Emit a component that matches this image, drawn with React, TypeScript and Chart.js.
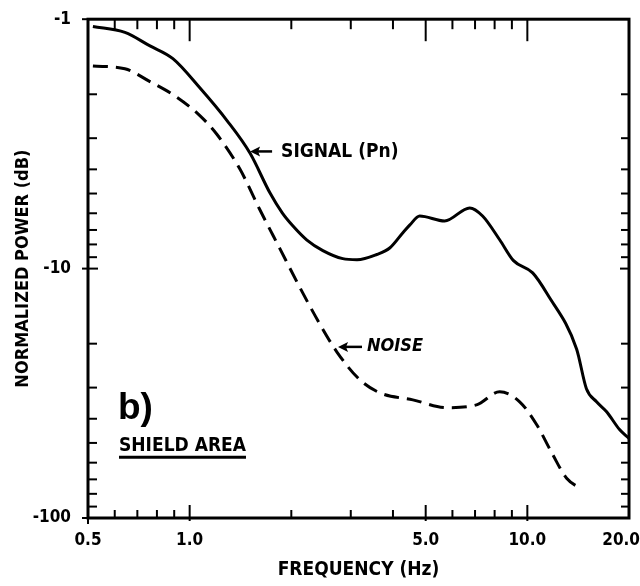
import React, { useEffect, useRef } from 'react';
import { Chart, registerables } from 'chart.js';

Chart.register(...registerables);

// ---- data ----
const signalFreqHz = [0.517, 0.643, 0.763, 0.892, 1.07, 1.29, 1.51, 1.73, 1.88, 2.02, 2.22, 2.48, 2.84, 3.13, 3.58, 3.92, 4.28, 4.49, 4.8, 5.69, 6.75, 7.37, 8.28, 9.1, 10.37, 11.48, 13.99, 14.96, 16.03, 17.17, 18.75, 20];
const signalPowerDb = [-1.07, -1.13, -1.28, -1.44, -1.88, -2.55, -3.45, -4.98, -5.98, -6.74, -7.67, -8.47, -9.12, -9.21, -8.78, -8.25, -7.18, -6.68, -6.15, -6.44, -5.71, -6.15, -7.66, -9.29, -10.4, -12.7, -21.0, -30.3, -34.2, -37.5, -44.2, -48.0];

const noiseFreqHz = [0.517, 0.643, 0.763, 0.904, 1.07, 1.21, 1.41, 1.61, 1.85, 2.12, 2.43, 2.73, 3.19, 3.66, 4.58, 5.77, 7.07, 8.28, 9.49, 10.65, 11.88, 13.07, 14.47];
const noisePowerDb = [-1.54, -1.58, -1.78, -2.03, -2.43, -2.92, -4.0, -5.77, -8.32, -11.9, -16.7, -21.6, -27.9, -31.5, -33.6, -36.1, -35.2, -31.2, -34.2, -42.2, -55.6, -69.3, -76.6];

const xTickValues = [0.5, 1, 5, 10, 20];
const xTickLabels = ['0.5', '1.0', '5.0', '10.0', '20.0'];
const xMinorTicks = [0.6, 0.7, 0.8, 0.9, 2, 3, 4, 6, 7, 8, 9];
const yTickValues = [-1, -10, -100];
const yTickLabels = ['-1', '-10', '-100'];
const yMinorTicks = [-2, -3, -4, -5, -6, -7, -8, -9, -20, -30, -40, -50, -60, -70, -80, -90];

const xTitle = 'FREQUENCY (Hz)';
const yTitle = 'NORMALIZED POWER (dB)';
const signalLabel = 'SIGNAL (Pn)';
const noiseLabel = 'NOISE';
const panelLabel = 'b)';
const areaLabel = 'SHIELD AREA';
// arrow tips (frequency Hz, power dB)
const signalArrowAt = [1.51, -3.39];
const noiseArrowAt = [2.75, -20.6];

const FONT = "'DejaVu Sans Condensed', 'DejaVu Sans', sans-serif";

const framePlugin = {
  id: 'frameAndNotes',
  afterDatasetsDraw(chart: any) {
    const { ctx, chartArea: a, scales } = chart;
    const xs = scales.x;
    const ys = scales.y;
    const line = (x1: number, y1: number, x2: number, y2: number) => {
      ctx.beginPath();
      ctx.moveTo(x1, y1);
      ctx.lineTo(x2, y2);
      ctx.stroke();
    };
    ctx.save();
    ctx.strokeStyle = '#000';
    ctx.fillStyle = '#000';
    ctx.lineWidth = 3;
    ctx.strokeRect(a.left, a.top, a.right - a.left, a.bottom - a.top);

    ctx.lineWidth = 2;
    // x ticks
    xMinorTicks.forEach((v) => {
      const px = xs.getPixelForValue(v);
      line(px, a.bottom, px, a.bottom - 8);
      line(px, a.top, px, a.top + 10);
    });
    xTickValues.forEach((v) => {
      const px = xs.getPixelForValue(v);
      if (v === xTickValues[0]) {
        line(px, a.bottom, px, a.bottom + 6);
        return;
      }
      if (v === xTickValues[xTickValues.length - 1]) return;
      line(px, a.bottom + 3, px, a.bottom - 13);
      line(px, a.top, px, a.top + 22);
    });
    // y ticks
    yMinorTicks.forEach((v) => {
      const py = ys.getPixelForValue(-v);
      line(a.left, py, a.left + 9, py);
      line(a.right, py, a.right - 8, py);
    });
    yTickValues.forEach((v) => {
      const py = ys.getPixelForValue(-v);
      line(a.left - 6, py, a.left, py);
      if (v === -10) {
        line(a.left, py, a.left + 10, py);
        line(a.right, py, a.right - 9, py);
      }
    });

    // x tick labels
    ctx.font = `bold 17px ${FONT}`;
    ctx.textBaseline = 'middle';
    ctx.textAlign = 'center';
    xTickValues.forEach((v, i) => {
      const t = xTickLabels[i];
      const w = ctx.measureText(t).width;
      let px = xs.getPixelForValue(v);
      px = Math.min(px, chart.width - w / 2);
      ctx.fillText(t, px, a.bottom + 23);
    });

    // arrow helper
    const arrow = (tx: number, ty: number, len: number) => {
      ctx.lineWidth = 2.5;
      line(tx + 6, ty, tx + len, ty);
      ctx.beginPath();
      ctx.moveTo(tx, ty);
      ctx.lineTo(tx + 10, ty - 5);
      ctx.lineTo(tx + 8, ty);
      ctx.lineTo(tx + 10, ty + 5);
      ctx.closePath();
      ctx.fill();
    };

    ctx.textAlign = 'left';
    // signal note
    {
      const tx = xs.getPixelForValue(signalArrowAt[0]);
      const ty = ys.getPixelForValue(-signalArrowAt[1]);
      arrow(tx, ty, 22);
      ctx.font = `bold 19px ${FONT}`;
      ctx.fillText(signalLabel, tx + 31, ty + 1);
    }
    // noise note
    {
      const tx = xs.getPixelForValue(noiseArrowAt[0]);
      const ty = ys.getPixelForValue(-noiseArrowAt[1]);
      arrow(tx, ty, 24);
      ctx.font = `italic bold 18px ${FONT}`;
      ctx.fillText(noiseLabel, tx + 29, ty - 1);
    }
    // panel label
    ctx.textBaseline = 'alphabetic';
    ctx.font = "bold 37px 'Liberation Sans', Arial, sans-serif";
    ctx.fillText(panelLabel, a.left + 30, a.top + 400);
    ctx.font = `bold 19px ${FONT}`;
    const ax = a.left + 31;
    const ay = a.top + 432;
    ctx.fillText(areaLabel, ax, ay);
    const aw = ctx.measureText(areaLabel).width;
    ctx.lineWidth = 3;
    line(ax, ay + 6, ax + aw, ay + 6);
    ctx.restore();
  },
};

export default function App() {
  const ref = useRef<HTMLCanvasElement>(null);
  useEffect(() => {
    if (!ref.current) return;
    const signalPts = signalFreqHz.map((f, i) => ({ x: f, y: -signalPowerDb[i] }));
    const noisePts = noiseFreqHz.map((f, i) => ({ x: f, y: -noisePowerDb[i] }));
    const chart = new Chart(ref.current, {
      type: 'line',
      data: {
        datasets: [
          {
            label: 'Signal (Pn)',
            data: signalPts,
            borderColor: '#000',
            borderWidth: 3,
            pointRadius: 0,
            cubicInterpolationMode: 'monotone',
            fill: false,
          },
          {
            label: 'Noise',
            data: noisePts,
            borderColor: '#000',
            borderWidth: 3,
            borderDash: [15, 8],
            pointRadius: 0,
            cubicInterpolationMode: 'monotone',
            fill: false,
          },
        ],
      },
      options: {
        animation: false,
        responsive: false,
        layout: { padding: { top: 15, right: 11, left: 0, bottom: 0 } },
        plugins: { legend: { display: false }, tooltip: { enabled: false } },
        scales: {
          x: {
            type: 'logarithmic',
            min: 0.5,
            max: 20,
            grid: { display: false },
            border: { display: false },
            ticks: { display: false },
            title: {
              display: true,
              text: xTitle,
              color: '#000',
              font: { family: FONT, size: 19, weight: 'bold' },
              padding: { top: 0, bottom: 5 },
            },
            afterFit: (s: any) => {
              s.height = 68;
            },
          },
          y: {
            type: 'logarithmic',
            reverse: true,
            min: 1,
            max: 100,
            grid: { display: false },
            border: { display: false },
            afterBuildTicks: (s: any) => {
              s.ticks = yTickValues.map((v) => ({ value: -v }));
            },
            ticks: {
              autoSkip: false,
              padding: 9,
              color: '#000',
              font: { family: FONT, size: 17, weight: 'bold' },
              callback: (_v: any, i: number) => yTickLabels[i],
            },
            title: {
              display: true,
              text: yTitle,
              color: '#000',
              font: { family: FONT, size: 18, weight: 'bold' },
              padding: { top: 13, bottom: 0 },
            },
            afterFit: (s: any) => {
              s.width = 88;
            },
          },
        },
      } as any,
      plugins: [framePlugin],
    });
    return () => chart.destroy();
  }, []);
  return (
    <div style={{ position: 'fixed', left: 0, top: 0, width: 640, height: 586, background: '#fff' }}>
      <canvas ref={ref} width={640} height={586} style={{ display: 'block' }} />
    </div>
  );
}
